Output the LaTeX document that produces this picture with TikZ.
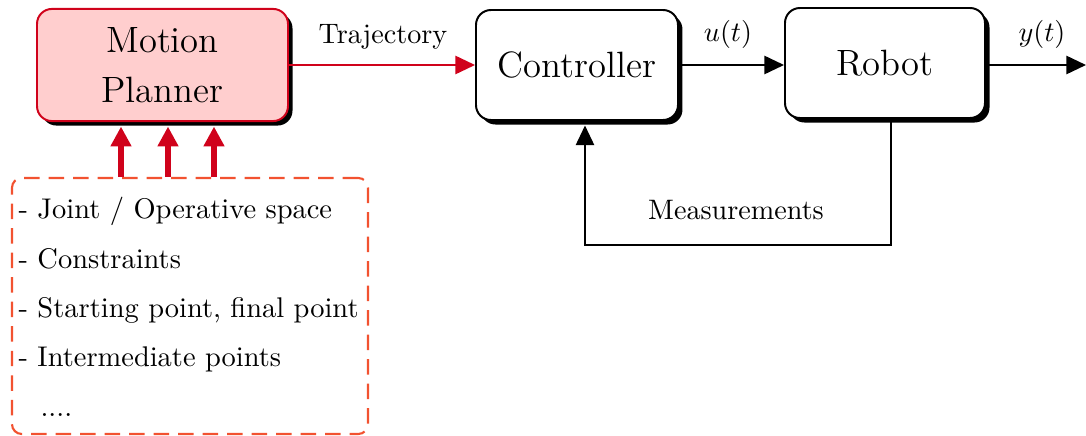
\documentclass[tikz,border=0pt]{standalone}
\usetikzlibrary{arrows.meta,shadows}
\definecolor{plannerred}{RGB}{208,2,27}
\definecolor{plannerfill}{RGB}{255,206,206}
\definecolor{inputorange}{RGB}{242,82,48}
\begin{document}
\begin{tikzpicture}[x=0.355pt,y=-0.355pt,
  block/.style={draw, line width=0.7pt, rounded corners=5.3pt, fill=white,
    drop shadow={shadow xshift=1.6pt, shadow yshift=-1.6pt, fill=black, opacity=1},
    font=\fontsize{13pt}{17.7pt}\selectfont, align=center, inner sep=0pt},
  planner/.style={block, draw=plannerred, fill=plannerfill},
  inputbox/.style={draw=inputorange, line width=0.75pt, rounded corners=3.5pt,
    dash pattern=on 5.5pt off 3.2pt, inner sep=0pt},
  label/.style={font=\fontsize{10pt}{12pt}\selectfont, inner sep=0pt, anchor=base},
  item/.style={font=\fontsize{10.1pt}{12pt}\selectfont, inner sep=0pt, anchor=base west},
  signal/.style={line width=0.7pt, -{Triangle[length=7pt,width=6.5pt]}},
  feed/.style={line width=0.7pt, -{Triangle[length=7pt,width=6.5pt]}, shorten >=1.6pt},
  bigarrow/.style={draw=plannerred, line width=2.2pt, -{Triangle[length=7pt,width=7pt]}, shorten >=1.6pt}
]
\useasboundingbox (0,0) rectangle (1086,436);

% blocks of the control chain
\node[planner, minimum width=89.1pt, minimum height=39.8pt] (mp) at (162.5,65) {Motion\\Planner};
\node[block, minimum width=71.7pt, minimum height=39.05pt] (ctrl) at (577,65) {Controller};
\node[block, minimum width=71.0pt, minimum height=39.05pt] (robot) at (885,63) {Robot};

% planner inputs
\node[inputbox, minimum width=126.4pt, minimum height=90.9pt] (req) at (190,306) {};
\node[item] (it1) at (18,218) {- Joint / Operative space};
\node[item] (it2) at (18,268) {- Constraints};
\node[item] (it3) at (18,317) {- Starting point, final point};
\node[item] (it4) at (18,367) {- Intermediate points};
\node[item] (it5) at (40,417) {....};

\foreach \xx in {121,168,214}
  \draw[bigarrow] (req.north -| \xx,0) -- (mp.south -| \xx,0);

% signals
\coordinate (out) at (1086,65);
\draw[signal, draw=plannerred, fill=plannerred] (mp.east |- ctrl.west) -- (ctrl.west);
\draw[signal] (ctrl.east) -- (ctrl.east -| robot.west);
\draw[signal] (robot.east |- out) -- (out);

\node[label] (traj) at (383,43) {Trajectory};
\node[label] (ut) at (728,42) {$u(t)$};
\node[label] (yt) at (1042,42) {$y(t)$};

% feedback loop
\coordinate (fb1) at (891,245);
\coordinate (fb2) at (585,245);
\draw[feed] (robot.south -| fb1) -- (fb1) -- (fb2) -- (ctrl.south -| fb2);
\node[label] (meas) at (736,220) {Measurements};
\end{tikzpicture}
\end{document}
